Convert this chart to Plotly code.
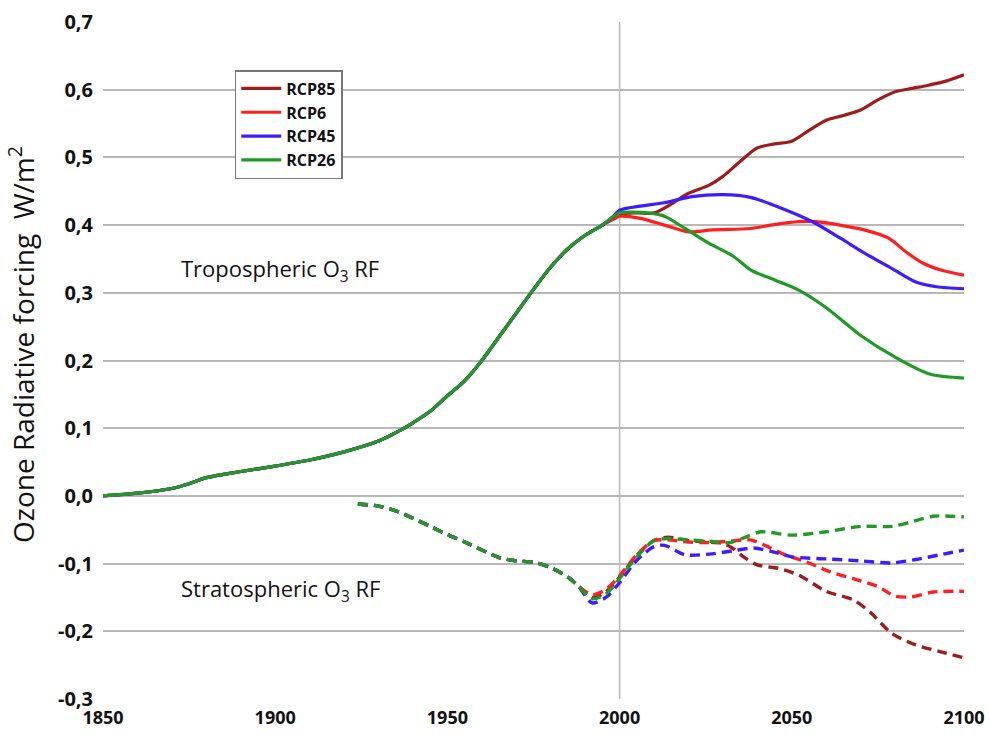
import plotly.graph_objects as go

# ---- data ----
scenarios = ["RCP85", "RCP6", "RCP45", "RCP26"]
colors = {"RCP85": "#a01c1c", "RCP6": "#ff1f1f", "RCP45": "#3d1cff", "RCP26": "#1f9a25"}

# tropospheric O3 RF, common historical part
trop_hist_years = [1850, 1860, 1870, 1875, 1880, 1890, 1900, 1910, 1920, 1930, 1936, 1940,
                   1945, 1950, 1955, 1960, 1965, 1970, 1975, 1980, 1985, 1990, 1995]
trop_hist = [0.0, 0.004, 0.011, 0.018, 0.027, 0.036, 0.044, 0.053, 0.065, 0.081, 0.096, 0.108,
             0.125, 0.148, 0.17, 0.2, 0.235, 0.27, 0.305, 0.338, 0.365, 0.385, 0.400]

# tropospheric futures
trop_rcp85_years = [1998, 2000, 2005, 2010, 2015, 2020, 2026, 2030, 2035, 2040, 2045, 2050,
                    2055, 2060, 2065, 2070, 2075, 2080, 2085, 2090, 2095, 2100]
trop_rcp85 = [0.410, 0.416, 0.418, 0.418, 0.431, 0.447, 0.459, 0.472, 0.494, 0.514, 0.52, 0.524,
              0.54, 0.555, 0.562, 0.57, 0.585, 0.597, 0.602, 0.607, 0.613, 0.622]
trop_rcp6_years = [1998, 2000, 2006, 2013, 2020, 2027, 2038, 2044, 2052, 2057, 2064, 2071,
                   2078, 2083, 2088, 2093, 2100]
trop_rcp6 = [0.408, 0.413, 0.410, 0.40, 0.39, 0.393, 0.395, 0.40, 0.405, 0.405, 0.40, 0.393,
             0.381, 0.361, 0.344, 0.334, 0.326]
trop_rcp45_years = [1998, 2000, 2006, 2013, 2021, 2030, 2038, 2047, 2056, 2064, 2071, 2079,
                    2086, 2092, 2100]
trop_rcp45 = [0.412, 0.422, 0.428, 0.433, 0.442, 0.445, 0.441, 0.425, 0.405, 0.381, 0.359, 0.336,
              0.316, 0.309, 0.306]
trop_rcp26_years = [1998, 2000, 2008, 2013, 2019, 2026, 2033, 2038, 2045, 2052, 2060, 2070,
                    2080, 2090, 2100]
trop_rcp26 = [0.412, 0.418, 0.418, 0.413, 0.395, 0.373, 0.354, 0.334, 0.319, 0.304, 0.278, 0.237,
              0.205, 0.18, 0.174]

# stratospheric O3 RF, common historical part
strat_hist_years = [1924, 1930, 1935, 1940, 1945, 1950, 1955, 1960, 1965, 1970, 1975, 1980,
                    1985, 1988]
strat_hist = [-0.012, -0.015, -0.022, -0.033, -0.045, -0.057, -0.068, -0.08, -0.091, -0.096,
              -0.098, -0.106, -0.12, -0.133]

strat_rcp85_years = [1992, 1996, 2000, 2005, 2010, 2014, 2020, 2025, 2030, 2033, 2036, 2040,
                     2046, 2052, 2060, 2068, 2073, 2079, 2086, 2093, 2100]
strat_rcp85 = [-0.150, -0.142, -0.120, -0.088, -0.066, -0.061, -0.066, -0.068, -0.07, -0.078,
               -0.09, -0.102, -0.107, -0.117, -0.141, -0.154, -0.173, -0.203, -0.22, -0.23, -0.239]
strat_rcp6_years = [1992, 1996, 2000, 2005, 2010, 2014, 2020, 2025, 2032, 2038, 2043, 2048,
                    2054, 2061, 2069, 2075, 2080, 2085, 2091, 2100]
strat_rcp6 = [-0.146, -0.138, -0.118, -0.087, -0.066, -0.065, -0.068, -0.069, -0.067, -0.065,
              -0.075, -0.087, -0.097, -0.112, -0.124, -0.134, -0.148, -0.149, -0.142, -0.141]
strat_rcp45_years = [1992, 1996, 2000, 2005, 2010, 2013, 2019, 2026, 2033, 2039, 2044, 2050,
                     2060, 2070, 2079, 2086, 2093, 2100]
strat_rcp45 = [-0.158, -0.150, -0.128, -0.095, -0.075, -0.073, -0.087, -0.086, -0.081, -0.077,
               -0.082, -0.09, -0.093, -0.096, -0.099, -0.094, -0.087, -0.08]
strat_rcp26_years = [1992, 1996, 2000, 2005, 2010, 2014, 2020, 2026, 2032, 2037, 2041, 2050,
                     2060, 2070, 2079, 2085, 2091, 2100]
strat_rcp26 = [-0.152, -0.145, -0.122, -0.09, -0.066, -0.063, -0.065, -0.067, -0.069, -0.06,
               -0.053, -0.058, -0.053, -0.045, -0.045, -0.038, -0.03, -0.031]

x_ticks = [1850, 1900, 1950, 2000, 2050, 2100]
y_ticks = [0.7, 0.6, 0.5, 0.4, 0.3, 0.2, 0.1, 0.0, -0.1, -0.2, -0.3]
y_tick_labels = ["0,7", "0,6", "0,5", "0,4", "0,3", "0,2", "0,1", "0,0", "-0,1", "-0,2", "-0,3"]

trop = {
    "RCP85": (trop_rcp85_years, trop_rcp85),
    "RCP6": (trop_rcp6_years, trop_rcp6),
    "RCP45": (trop_rcp45_years, trop_rcp45),
    "RCP26": (trop_rcp26_years, trop_rcp26),
}
strat = {
    "RCP85": (strat_rcp85_years, strat_rcp85),
    "RCP6": (strat_rcp6_years, strat_rcp6),
    "RCP45": (strat_rcp45_years, strat_rcp45),
    "RCP26": (strat_rcp26_years, strat_rcp26),
}

FONT = "Open Sans"
GRID = "#b8b8b8"

fig = go.Figure()

for name in scenarios:
    yrs, vals = trop[name]
    fig.add_trace(go.Scatter(
        x=trop_hist_years + yrs, y=trop_hist + vals, mode="lines", name=name,
        legendgroup=name, line=dict(color=colors[name], width=3.2, shape="spline", smoothing=0.8)))
for name in scenarios:
    yrs, vals = strat[name]
    fig.add_trace(go.Scatter(
        x=strat_hist_years + yrs, y=strat_hist + vals, mode="lines", name=name,
        legendgroup=name, showlegend=False,
        line=dict(color=colors[name], width=3.4, dash="10px,6px", shape="spline", smoothing=0.8)))

# vertical reference line at year 2000
fig.add_vline(x=2000, line=dict(color=GRID, width=1.5), layer="below")

fig.add_annotation(x=1872, y=0.334, xref="x", yref="y", xanchor="left", yanchor="middle",
                   text="Tropospheric O<sub>3</sub> RF", showarrow=False,
                   font=dict(family=FONT, size=22, color="#111"))
fig.add_annotation(x=1872, y=-0.139, xref="x", yref="y", xanchor="left", yanchor="middle",
                   text="Stratospheric O<sub>3</sub> RF", showarrow=False,
                   font=dict(family=FONT, size=22, color="#111"))
fig.add_annotation(x=-0.094, y=0.523, xref="paper", yref="paper", textangle=-90,
                   xanchor="center", yanchor="middle", showarrow=False,
                   text="Ozone Radiative forcing  W/m<sup>2</sup>",
                   font=dict(family=FONT, size=28, color="#111"))

fig.update_layout(
    width=990, height=733,
    margin=dict(l=103, r=26, t=22, b=34, autoexpand=False),
    paper_bgcolor="white", plot_bgcolor="white",
    font=dict(family=FONT, color="#111"),
    showlegend=True,
    legend=dict(x=0.153, y=0.929, xanchor="left", yanchor="top",
                bgcolor="white", bordercolor="#777", borderwidth=1.5,
                font=dict(family=FONT, size=16, color="#111", weight="bold"),
                tracegroupgap=0, itemwidth=40),
    xaxis=dict(range=[1850, 2100], tickvals=x_ticks, showgrid=False, zeroline=False,
               showline=False, ticks="outside", ticklen=2, tickcolor="rgba(0,0,0,0)",
               automargin=False,
               tickfont=dict(family=FONT, size=18, color="#111", weight="bold")),
    xaxis2=dict(range=[1850, 2100], overlaying="x", anchor="free", position=0.3,
                side="bottom", showline=True, linecolor=GRID, linewidth=1.5,
                tickvals=x_ticks, ticks="inside", ticklen=5, tickcolor=GRID, tickwidth=1.2,
                showticklabels=False, showgrid=False, zeroline=False, automargin=False,
                minor=dict(ticks="inside", ticklen=5, dtick=10, tick0=1850,
                           tickcolor=GRID, tickwidth=1.2, showgrid=False)),
    xaxis3=dict(range=[1850, 2100], overlaying="x", anchor="free", position=0.3,
                side="bottom", showline=False, tickvals=x_ticks, ticks="outside",
                ticklen=5, tickcolor=GRID, tickwidth=1.2, showticklabels=False,
                showgrid=False, zeroline=False, automargin=False),
    yaxis=dict(range=[-0.3, 0.7], tickvals=y_ticks, ticktext=y_tick_labels,
               showgrid=True, gridcolor=GRID, gridwidth=1.5, zeroline=False,
               showline=False, ticks="outside", ticklen=5, tickcolor="rgba(0,0,0,0)",
               automargin=False,
               tickfont=dict(family=FONT, size=20, color="#111", weight="bold")),
)

# the page's default body margin would shift the fixed-size figure by 8px
fig.write_html("out.html", config={"displayModeBar": False},
               post_script="document.body.style.margin='0';")
